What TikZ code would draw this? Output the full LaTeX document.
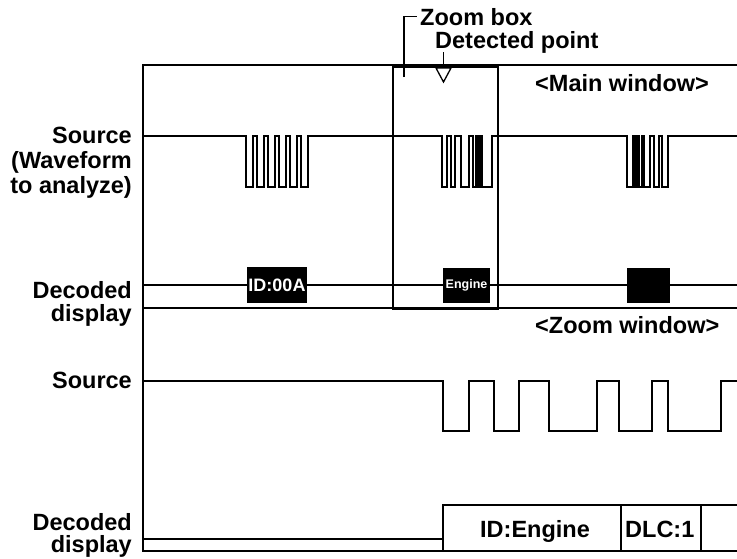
\documentclass[tikz,border=0pt]{standalone}
\usepackage{fontspec}
\setmainfont{Liberation Sans}
\begin{document}
\begin{tikzpicture}[x=1pt,y=-1pt,
  lbl/.style={font=\fontsize{23.5}{25}\selectfont\bfseries, inner sep=0pt},
  frame/.style={line width=1.3pt},
  wave/.style={line width=2pt, line join=miter},
  blk/.style={fill=black, draw=none, text=white, inner sep=0pt, font=\bfseries}
]
\useasboundingbox (0,0) rectangle (737,558);

% left labels
\node[lbl, anchor=base east] (src1) at (132,143) {Source};
\node[lbl, anchor=base east] (wf)   at (132,168) {(Waveform};
\node[lbl, anchor=base east] (ta)   at (132,193) {to analyze)};
\node[lbl, anchor=base east] (dec1) at (132,298) {Decoded};
\node[lbl, anchor=base east] (dsp1) at (132,321) {display};
\node[lbl, anchor=base east] (src2) at (132,388) {Source};
\node[lbl, anchor=base east] (dec2) at (132,530) {Decoded};
\node[lbl, anchor=base east] (dsp2) at (132,552) {display};

% window frames
\draw[frame] (737,65) -- (143,65) -- (143,551) -- (737,551);
\draw[frame] (143,308) -- (737,308);
\draw[frame] (143,285) -- (737,285);

\node[lbl, anchor=base west] (mainlbl) at (535,91) {<Main window>};
\node[lbl, anchor=base west] (zoomwlbl) at (535,333) {<Zoom window>};

% main source waveform
\draw[wave] (143,136)
  -| (246,187) -| (253,136) -| (257,187) -| (264,136) -| (268,187) -| (275,136)
  -| (279,187) -| (286,136) -| (290,187) -| (297,136) -| (301,187) -| (308,136)
  -| (442,187) -| (446.6,136) -| (451,187) -| (455.4,136) -| (460.7,187) -| (469.2,136)
  -| (473.1,187) -| (475.5,136) -| (477.5,187) -| (479.5,136) -| (481.8,187) -| (491.5,136)
  -| (627,187) -| (633,136) -| (635,187) -| (637,136) -| (639,187) -| (641.5,136)
  -| (644,187) -| (650,136) -| (654,187) -| (659,136) -| (662,187) -| (668,136)
  -- (737,136);

% main decoded boxes
\node[blk, minimum width=60pt, minimum height=36pt, font=\fontsize{18}{18}\selectfont\bfseries] (id00a) at (277,285) {ID:00A};
\node[blk, minimum width=47pt, minimum height=35pt, font=\fontsize{12.5}{13}\selectfont\bfseries] (engine) at (466.5,285.5) {Engine};
\node[blk, minimum width=43pt, minimum height=35pt] (third) at (648.5,285.5) {};

% zoom box
\node[draw, line width=2pt, minimum width=105pt, minimum height=242pt, inner sep=0pt, anchor=north west] (zbox) at (392,66) {};
\node[lbl, anchor=base west] (zoomlbl) at (420,25) {Zoom box};
\coordinate (bk) at (404,77);
\draw[frame] (bk) |- ([xshift=-3pt]zoomlbl.west);

% detected point
\node[lbl, anchor=base west] (detlbl) at (435,48) {Detected point};
\coordinate (arrtop) at (443.5,52);
\coordinate (tri) at (443.5,68);
\draw[frame] (arrtop) -- (tri);
\draw[frame, fill=white, line join=miter] ([xshift=-7.5pt]tri) -- ([xshift=7.5pt]tri) -- ([yshift=-14pt]tri) -- cycle;

% zoom source waveform
\draw[wave] (143,381)
  -| (443,431) -| (469,381) -| (494,431) -| (519,381) -| (549,431) -| (597,381)
  -| (619,431) -| (652,381) -| (668,431) -| (721,381) -- (737,381);

% zoom decoded
\coordinate (zb) at (443,505);
\draw[frame] (143,539) -- (443,539);
\draw[frame] (737,505) -- (zb) -- (443,551);
\draw[frame] (621,505) -- (621,551);
\draw[frame] (701,505) -- (701,551);
\node[lbl, anchor=base west] (idengine) at (480,537) {ID:Engine};
\node[lbl, anchor=base west] (dlc) at (625,537) {DLC:1};
\end{tikzpicture}
\end{document}
